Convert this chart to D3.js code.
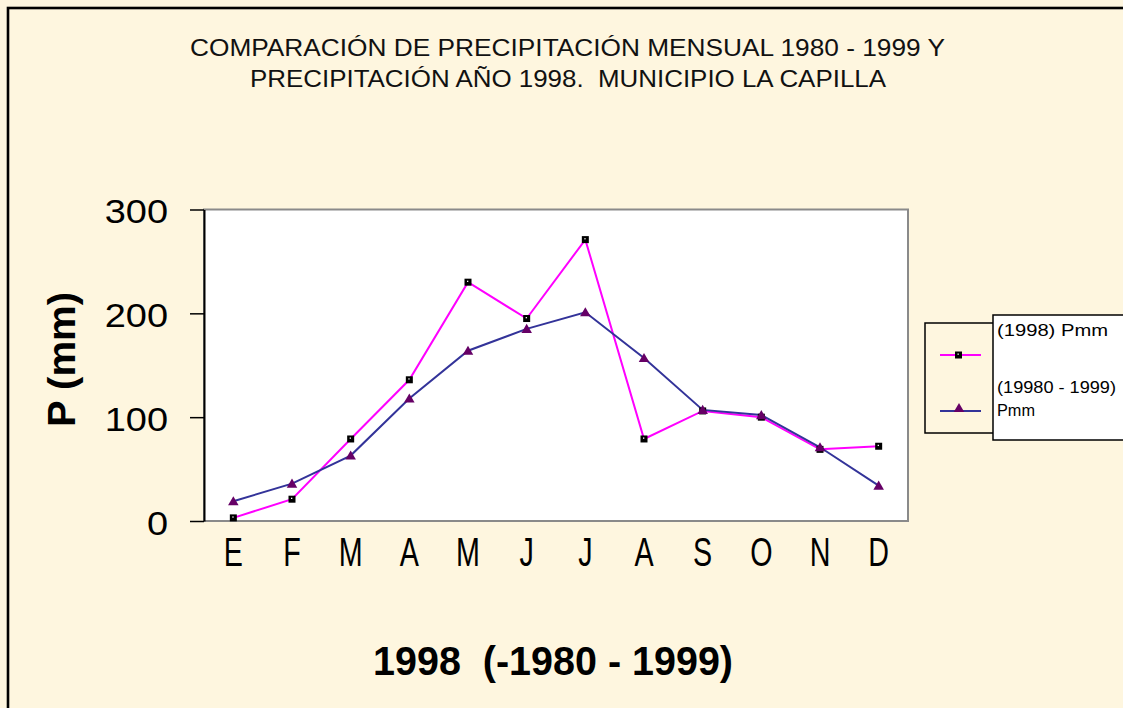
<!DOCTYPE html>
<html>
<head>
<meta charset="utf-8">
<script src="https://cdn.jsdelivr.net/npm/d3@7"></script>
<style>
  body { margin: 0; background: #fef6df; overflow: hidden; }
  svg { display: block; font-family: "Liberation Sans", Arial, sans-serif; }
</style>
</head>
<body>
<svg id="chart" width="1123" height="708"></svg>
<script>
// month labels (spanish initials)
const months = ["E", "F", "M", "A", "M", "J", "J", "A", "S", "O", "N", "D"];
// 1998 monthly precipitation (mm)
const p1998 = [3, 21, 79, 136, 230, 195, 271, 79, 106, 100, 69, 72];
// average 1980 - 1999 (mm)
const pAvg = [19, 36, 63, 118, 164, 185, 201, 157, 107, 102, 71, 34];
const yTicks = [0, 100, 200, 300];

const titleLines = ["COMPARACIÓN DE PRECIPITACIÓN MENSUAL 1980 - 1999 Y",
                    "PRECIPITACIÓN AÑO 1998.  MUNICIPIO LA CAPILLA"];
const legendNames = ["(1998) Pmm", "(19980 - 1999)", "Pmm"];

const svg = d3.select("#chart");

// outer frame (runs past the right and bottom edges)
svg.append("rect")
    .attr("x", 8).attr("y", 8)
    .attr("width", 1300).attr("height", 800)
    .attr("fill", "#fef6df")
    .attr("stroke", "#000")
    .attr("stroke-width", 2.6);

// title
let tw = [755, 636];
let tx = [567.5, 568];
svg.selectAll("text.title")
    .data(titleLines)
    .enter()
    .append("text")
    .attr("class", "title")
    .attr("x", function (d, i) { return tx[i] - tw[i] / 2; })
    .attr("y", function (d, i) { return 55.5 + i * 31.5; })
    .attr("textLength", function (d, i) { return tw[i]; })
    .attr("lengthAdjust", "spacingAndGlyphs")
    .style("white-space", "pre")
    .attr("font-size", 23)
    .attr("fill", "#111")
    .text(function (d) { return d; });

// plot area
let plotL = 204, plotR = 908, plotT = 209.5, plotB = 521;

let x = d3.scaleBand().domain(d3.range(12)).range([plotL, plotR]);
let y = d3.scaleLinear().domain([0, 300]).range([plotB, plotT]);

svg.append("rect")
    .attr("x", plotL).attr("y", plotT)
    .attr("width", plotR - plotL).attr("height", plotB - plotT)
    .attr("fill", "#fff")
    .attr("stroke", "#8a8a8a")
    .attr("stroke-width", 2);

// y axis
let yAxis = svg.append("g")
    .attr("transform", "translate(" + plotL + ",0)")
    .call(d3.axisLeft(y).tickValues(yTicks).tickSize(14).tickSizeOuter(0));
yAxis.select(".domain").attr("stroke", "#000").attr("stroke-width", 2);
yAxis.selectAll(".tick line").attr("stroke", "#000").attr("stroke-width", 1.5);
yAxis.selectAll(".tick text")
    .attr("x", -36 / 1.15)
    .attr("dy", "0.4em")
    .attr("transform", "scale(1.15,1)")
    .attr("font-size", 33)
    .attr("font-family", "Liberation Sans, Arial, sans-serif")
    .attr("fill", "#000");

// x labels
svg.selectAll("text.month")
    .data(months)
    .enter()
    .append("text")
    .attr("class", "month")
    .attr("transform", function (d, i) {
        return "translate(" + (x(i) + x.bandwidth() / 2) + ",566) scale(0.7,1)";
    })
    .attr("text-anchor", "middle")
    .attr("font-size", 41)
    .attr("fill", "#000")
    .text(function (d) { return d; });

// axis titles
svg.append("text")
    .attr("x", 373).attr("y", 675)
    .attr("textLength", 360)
    .attr("lengthAdjust", "spacingAndGlyphs")
    .style("white-space", "pre")
    .attr("font-size", 41)
    .attr("font-weight", "bold")
    .attr("fill", "#000")
    .text("1998  (-1980 - 1999)");

svg.append("text")
    .attr("transform", "translate(75,427) rotate(-90)")
    .attr("textLength", 135)
    .attr("lengthAdjust", "spacingAndGlyphs")
    .attr("font-size", 38)
    .attr("font-weight", "bold")
    .attr("fill", "#000")
    .text("P (mm)");

// lines
let cx = function (d, i) { return x(i) + x.bandwidth() / 2; };
let line = d3.line()
    .x(cx)
    .y(function (d) { return y(d); });

svg.append("path")
    .datum(p1998)
    .attr("d", line)
    .attr("fill", "none")
    .attr("stroke", "#ff00ff")
    .attr("stroke-width", 2);

svg.append("path")
    .datum(pAvg)
    .attr("d", line)
    .attr("fill", "none")
    .attr("stroke", "#333399")
    .attr("stroke-width", 2);

// markers
let tri = d3.symbol().type(d3.symbolTriangle).size(48);

function squareMarker(g, px, py) {
    g.append("rect")
        .attr("x", px - 3.5).attr("y", py - 3.5)
        .attr("width", 7).attr("height", 7)
        .attr("fill", "#000");
    g.append("rect")
        .attr("x", px - 1).attr("y", py - 1.5)
        .attr("width", 1.3).attr("height", 1.3)
        .attr("fill", "#fff");
}

let sqG = svg.append("g");
p1998.forEach(function (d, i) {
    squareMarker(sqG, cx(d, i), y(d));
});

svg.append("g").selectAll("path")
    .data(pAvg)
    .enter()
    .append("path")
    .attr("d", tri)
    .attr("transform", function (d, i) {
        return "translate(" + cx(d, i) + "," + (y(d) + 1) + ")";
    })
    .attr("fill", "#660066");

// legend
svg.append("rect")
    .attr("x", 925).attr("y", 323)
    .attr("width", 80).attr("height", 110)
    .attr("fill", "#fef6df")
    .attr("stroke", "#000")
    .attr("stroke-width", 1.5);

svg.append("rect")
    .attr("x", 993).attr("y", 315)
    .attr("width", 140).attr("height", 125)
    .attr("fill", "#fff")
    .attr("stroke", "#000")
    .attr("stroke-width", 1.5);

svg.append("line")
    .attr("x1", 940).attr("x2", 981)
    .attr("y1", 355).attr("y2", 355)
    .attr("stroke", "#ff00ff").attr("stroke-width", 2);
squareMarker(svg.append("g"), 958.5, 355);

svg.append("line")
    .attr("x1", 940).attr("x2", 981)
    .attr("y1", 411).attr("y2", 411)
    .attr("stroke", "#333399").attr("stroke-width", 2);
svg.append("path")
    .attr("d", tri)
    .attr("transform", "translate(959,409)")
    .attr("fill", "#660066");

let lw = [111, 119, 38];
let ly = [336, 393, 416];
svg.selectAll("text.legend")
    .data(legendNames)
    .enter()
    .append("text")
    .attr("class", "legend")
    .attr("x", 997)
    .attr("y", function (d, i) { return ly[i]; })
    .attr("textLength", function (d, i) { return lw[i]; })
    .attr("lengthAdjust", "spacingAndGlyphs")
    .attr("font-size", 16)
    .attr("fill", "#000")
    .text(function (d) { return d; });
</script>
</body>
</html>
